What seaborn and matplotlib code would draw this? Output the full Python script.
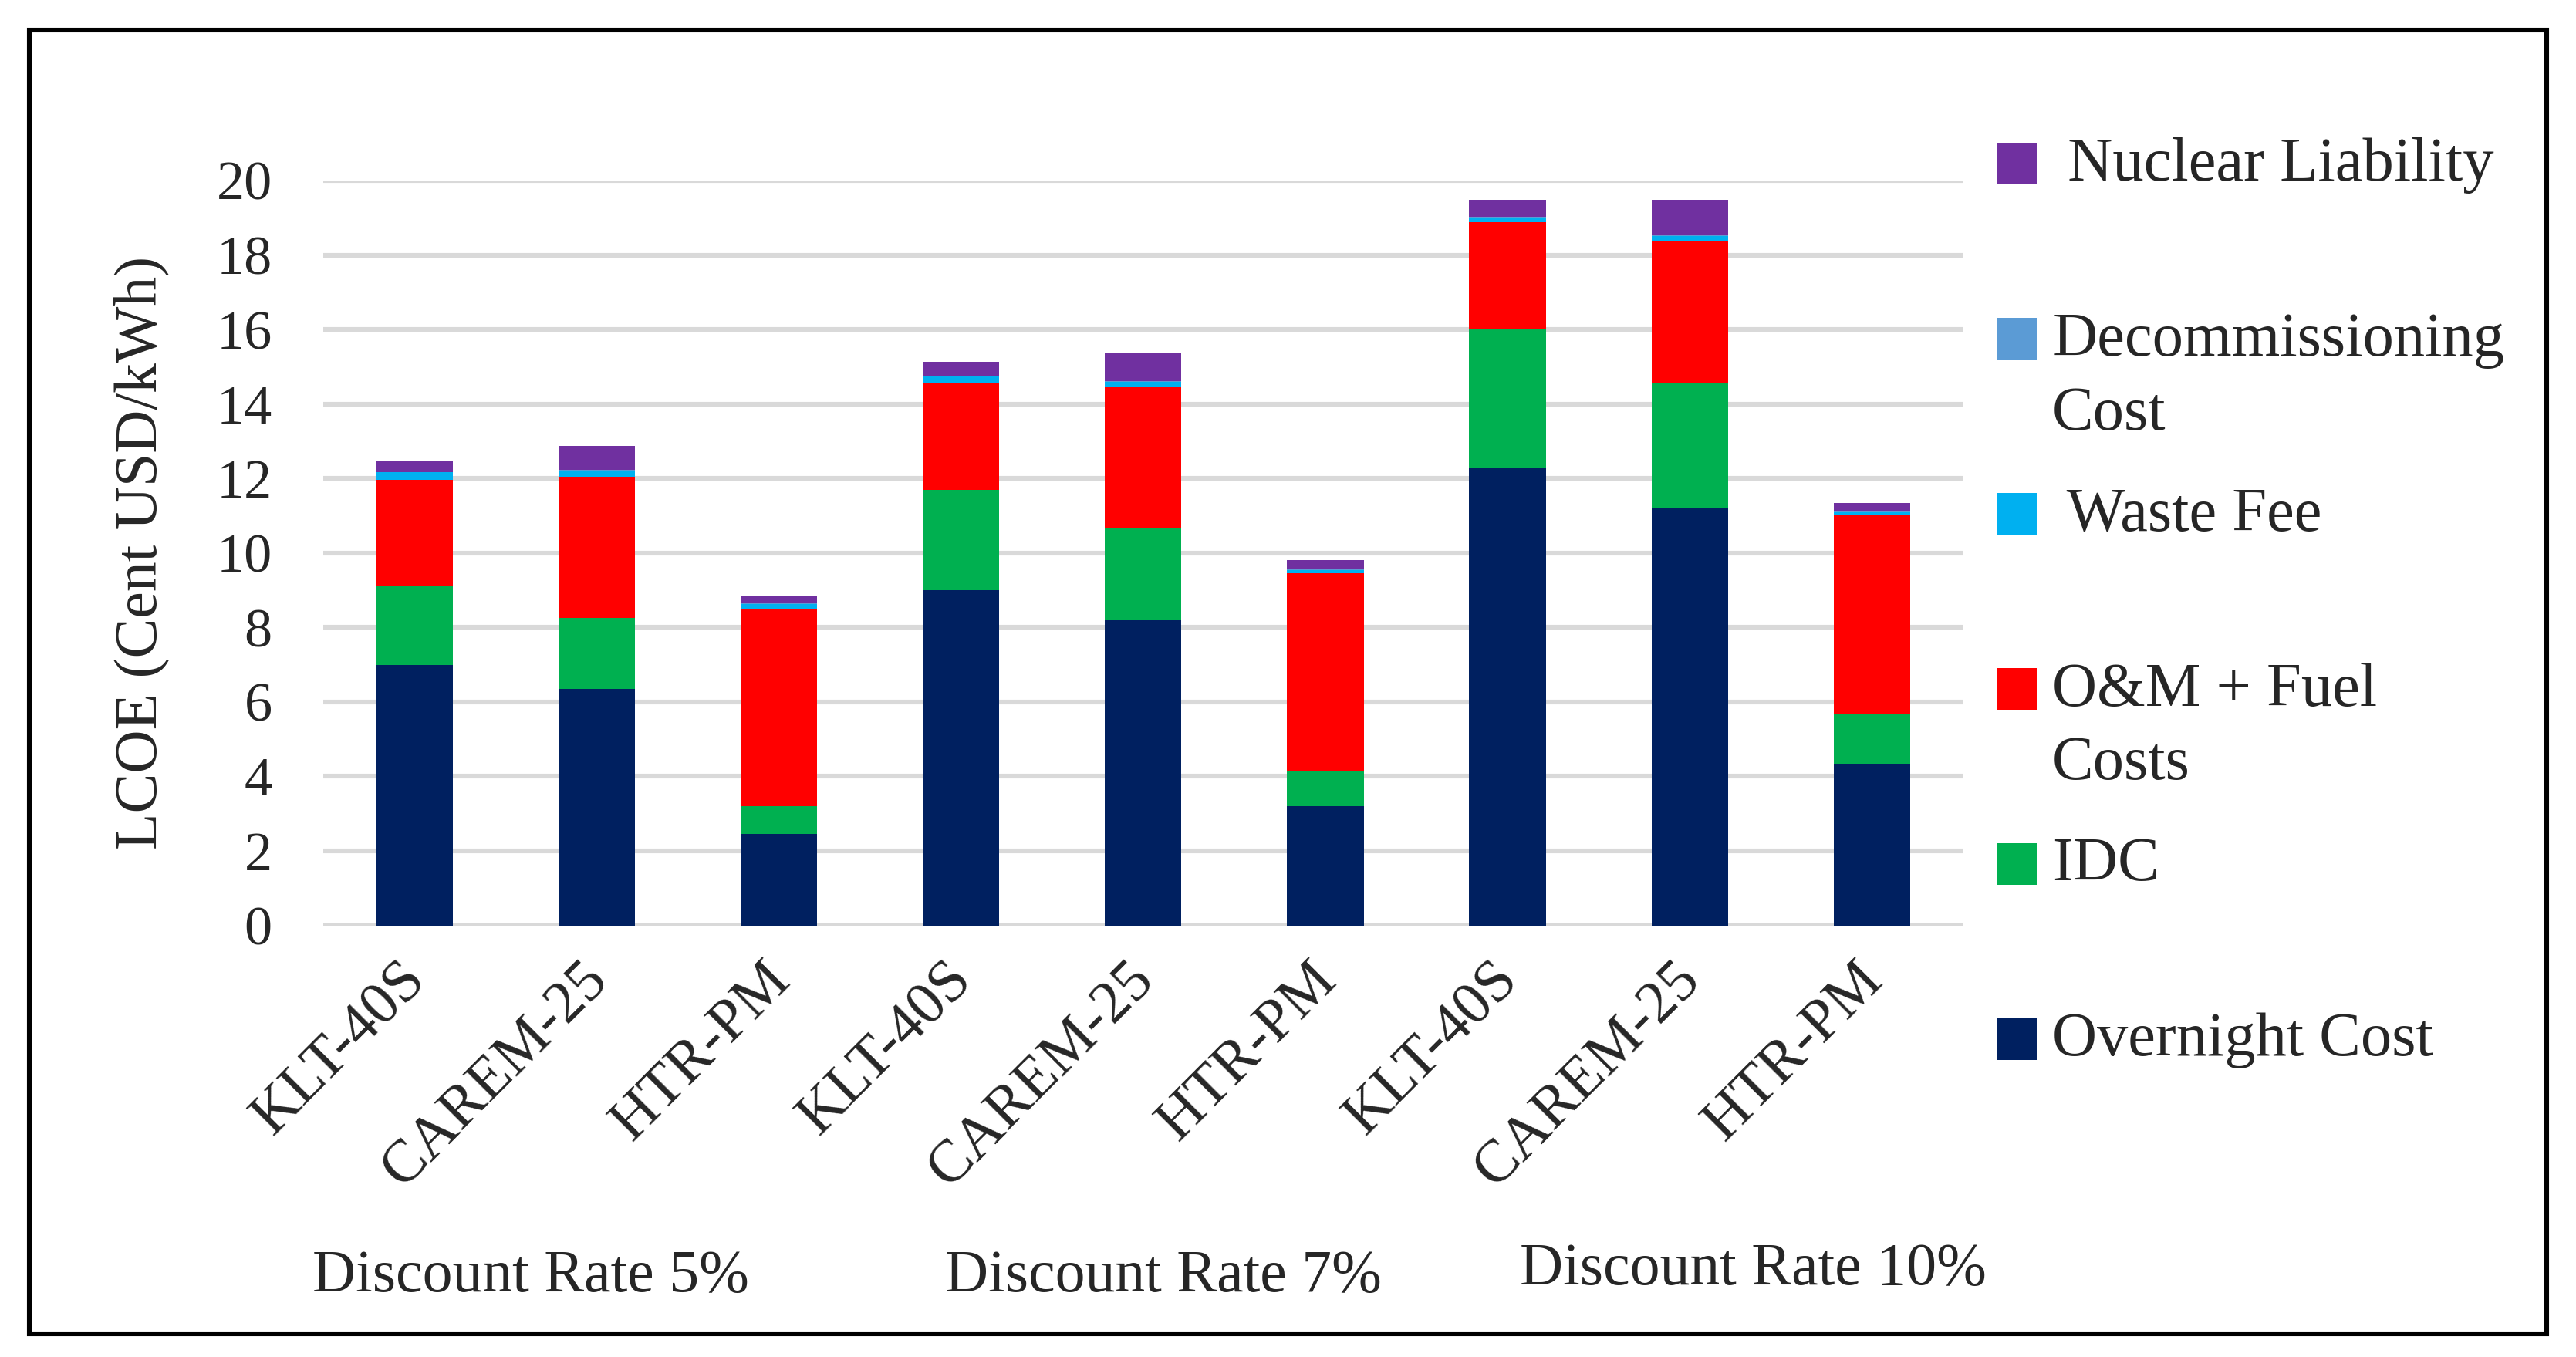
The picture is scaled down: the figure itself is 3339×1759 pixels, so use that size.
import matplotlib
matplotlib.use("Agg")
import matplotlib.pyplot as plt
import matplotlib.transforms as mtransforms
from matplotlib.patches import Patch, Rectangle
from matplotlib.legend_handler import HandlerPatch
import numpy as np
import pandas as pd
import seaborn as sns

# ---- data ----
reactors = ["KLT-40S", "CAREM-25", "HTR-PM",
            "KLT-40S", "CAREM-25", "HTR-PM",
            "KLT-40S", "CAREM-25", "HTR-PM"]
group_labels = ["Discount Rate 5%", "Discount Rate 7%", "Discount Rate 10%"]
overnight = [7.0, 6.35, 2.45, 9.0, 8.2, 3.2, 12.3, 11.2, 4.35]
idc = [2.1, 1.9, 0.76, 2.7, 2.45, 0.96, 3.7, 3.38, 1.33]
om_fuel = [2.86, 3.8, 5.29, 2.88, 3.79, 5.29, 2.88, 3.79, 5.33]
waste_fee = [0.2, 0.17, 0.13, 0.15, 0.16, 0.09, 0.12, 0.13, 0.08]
decommissioning = [0.02, 0.02, 0.02, 0.02, 0.02, 0.02, 0.02, 0.02, 0.02]
nuclear_liability = [0.3, 0.64, 0.19, 0.38, 0.76, 0.24, 0.47, 0.97, 0.23]

series_names = ["Overnight Cost", "IDC", "O&M + Fuel\nCosts", " Waste Fee",
                "Decommissioning\nCost", " Nuclear Liability"]
series_values = [overnight, idc, om_fuel, waste_fee, decommissioning, nuclear_liability]
series_colors = ["#002060", "#00B050", "#FF0000", "#00B0F0", "#5B9BD5", "#7030A0"]

W, H, DPI = 3339, 1759, 200
sns.set_theme(style="white")
plt.rcParams["font.family"] = ["Liberation Serif", "DejaVu Serif"]

fig = plt.figure(figsize=(W / DPI, H / DPI), dpi=DPI)
ax = fig.add_axes([0.1256, 0.318, 0.762 - 0.1256, 0.549])

ids = [f"b{i}" for i in range(len(reactors))]
cum = np.cumsum(np.array(series_values), axis=0)
# draw from top layer downward so lower layers overdraw
for k in range(len(series_values) - 1, -1, -1):
    df = pd.DataFrame({"id": ids, "val": cum[k]})
    sns.barplot(data=df, x="id", y="val", order=ids, color=series_colors[k],
                width=0.42, saturation=1, ax=ax, zorder=3, linewidth=0)

ax.set_ylim(0, 20)
ax.set_xlim(-0.5, len(ids) - 0.5)
ax.set_yticks(np.arange(0, 21, 2))
ax.set_yticklabels([str(v) for v in range(0, 21, 2)], fontsize=26)
ax.yaxis.grid(True, color="#D9D9D9", linewidth=2.2, zorder=0)
ax.set_axisbelow(True)
for s in ax.spines.values():
    s.set_visible(False)
ax.tick_params(axis="y", length=0, pad=24)
ax.tick_params(axis="x", length=0, pad=12)
ax.set_xlabel("")
ax.set_ylabel("LCOE (Cent USD/kWh)", fontsize=28, labelpad=22)

ax.set_xticks(range(len(ids)))
ax.set_xticklabels(reactors, rotation=45, ha="right", fontsize=28)
offset = mtransforms.ScaledTranslation(0.14, 0, fig.dpi_scale_trans)
for lab in ax.get_xticklabels():
    lab.set_transform(lab.get_transform() + offset)

for x, y, t in zip([0.206, 0.4515, 0.6805], [0.059, 0.059, 0.064], group_labels):
    fig.text(x, y, t, ha="center", va="center", fontsize=28)

# legend: every entry occupies two lines, marker aligned with the first line
LEG_FS = 29
LINESP = 1.41
shift = 0.5 * LINESP * 0.88 * LEG_FS


def first_line_patch(legend, orig_handle, xdescent, ydescent, width, height, fontsize):
    return Rectangle((-xdescent, -ydescent + shift), width, height)


handler = HandlerPatch(patch_func=first_line_patch)
handles = [Patch(facecolor=c, edgecolor="none") for c in series_colors[::-1]]
labels = [n if "\n" in n else n + "\n " for n in series_names[::-1]]
leg = fig.legend(handles, labels, loc="upper left", bbox_to_anchor=(0.775, 0.899),
                 frameon=False, fontsize=LEG_FS, handlelength=0.65, handleheight=0.65,
                 handletextpad=0.25, labelspacing=0.72, borderpad=0, borderaxespad=0,
                 handler_map={Patch: handler})
for t in leg.get_texts():
    t.set_linespacing(LINESP)

fig.patches.append(Rectangle((0.0114, 0.017), 0.9772, 0.961, transform=fig.transFigure,
                             fill=False, edgecolor="black", linewidth=2.2))

fig.savefig("out.png", dpi=DPI)
